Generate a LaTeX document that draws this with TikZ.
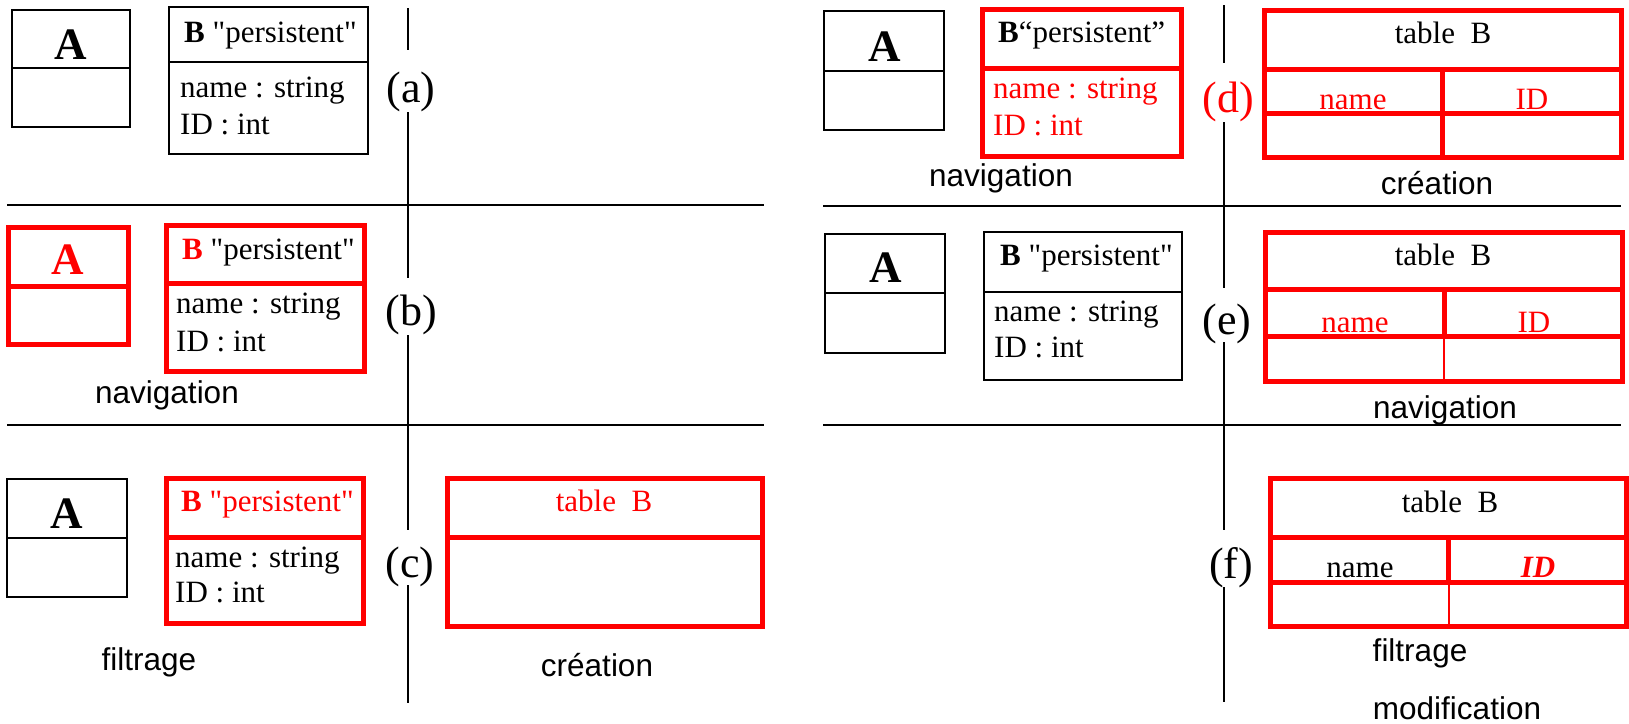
\documentclass[tikz,border=0pt]{standalone}
\usepackage{fontspec}
\setmainfont{Liberation Serif}[Ligatures=TeXOff]
\setsansfont{Liberation Sans}
\begin{document}
\begin{tikzpicture}[x=1pt,y=-1pt,
  sep/.style={draw=black, line width=2.4pt},
  blkbox/.style={draw=black, line width=2.4pt},
  redbox/.style={draw=red, line width=5pt},
  redthin/.style={draw=red, line width=2pt},
  body/.style={font=\fontsize{31}{36}\selectfont, inner sep=0pt, anchor=base west},
  cell/.style={font=\fontsize{31}{36}\selectfont, inner sep=0pt, anchor=base},
  bigA/.style={font=\bfseries\fontsize{45}{50}\selectfont, inner sep=0pt, anchor=base},
  tag/.style={font=\fontsize{44}{50}\selectfont, inner sep=0pt, anchor=base},
  note/.style={font=\sffamily\fontsize{31.5}{36}\selectfont, inner sep=0pt, anchor=base},
]
\useasboundingbox (0,0) rectangle (1629,723);

% ---------- separators ----------
\draw[sep] (7,205) -- (764,205);
\draw[sep] (7,425) -- (764,425);
\draw[sep] (823,206) -- (1621,206);
\draw[sep] (823,425) -- (1621,425);
\draw[sep] (408,8) -- (408,50);
\draw[sep] (408,112) -- (408,278);
\draw[sep] (408,335) -- (408,530);
\draw[sep] (408,585) -- (408,703);
\draw[sep] (1224,5) -- (1224,63);
\draw[sep] (1224,122) -- (1224,288);
\draw[sep] (1224,342) -- (1224,530);
\draw[sep] (1224,587) -- (1224,702);

% ---------- step labels ----------
\node[tag] (la) at (411,102) {(a)};
\node[tag] (lb) at (411,325) {(b)};
\node[tag] (lc) at (410,577) {(c)};
\node[tag, text=red] (ld) at (1228,112) {(d)};
\node[tag] (le) at (1227,334) {(e)};
\node[tag] (lf) at (1231,578) {(f)};

% ---------- (a) ----------
\draw[blkbox] (12,10) rectangle (130,127);
\draw[blkbox] (12,68) -- (130,68);
\node[bigA] (aA) at (71,59) {A};
\draw[blkbox] (169,7) rectangle (368,154);
\draw[blkbox] (169,62) -- (368,62);
\node[body] (aBh) at (184,42) {\textbf{B} "persistent"};
\node[body] (aB1) at (180,97) {name : string};
\node[body] (aB2) at (180,134) {ID : int};

% ---------- (b) ----------
\draw[redbox] (8,227) rectangle (128,344);
\draw[redbox] (8,286) -- (128,286);
\node[bigA, text=red] (bA) at (68,274) {A};
\draw[redbox] (166,225) rectangle (364,371);
\draw[redbox] (166,283) -- (364,283);
\node[body] (bBh) at (182,259) {\textcolor{red}{\textbf{B}} "persistent"};
\node[body] (bB1) at (176,313) {name : string};
\node[body] (bB2) at (176,351) {ID : int};
\node[note] (bnav) at (167,403) {navigation};

% ---------- (c) ----------
\draw[blkbox] (7,479) rectangle (127,597);
\draw[blkbox] (7,538) -- (127,538);
\node[bigA] (cA) at (67,528) {A};
\draw[redbox] (166,478) rectangle (363,623);
\draw[redbox] (166,537) -- (363,537);
\node[body, text=red] (cBh) at (181,511) {\textbf{B} "persistent"};
\node[body] (cB1) at (175,567) {name : string};
\node[body] (cB2) at (175,602) {ID : int};
\draw[redbox] (447,478) rectangle (762,626);
\draw[redbox] (447,537) -- (762,537);
\node[cell, text=red] (cT) at (604,511) {table\ \ B};
\node[note] (cfil) at (149,670) {filtrage};
\node[note] (ccre) at (597,676) {création};

% ---------- (d) ----------
\draw[blkbox] (824,11) rectangle (944,130);
\draw[blkbox] (824,71) -- (944,71);
\node[bigA] (dA) at (885,61) {A};
\draw[redbox] (982,9) rectangle (1181,156);
\draw[redbox] (982,68) -- (1181,68);
\node[body] (dBh) at (998,42) {\textbf{B}“persistent”};
\node[body, text=red] (dB1) at (993,98) {name : string};
\node[body, text=red] (dB2) at (993,135) {ID : int};
\draw[redbox] (1264,10) rectangle (1621,157);
\draw[redbox] (1264,69) -- (1621,69);
\draw[redbox] (1264,113) -- (1621,113);
\draw[redbox] (1442,69) -- (1442,157);
\node[cell] (dT) at (1443,43) {table\ \ B};
\node[cell, text=red] (dTn) at (1353,109) {name};
\node[cell, text=red] (dTi) at (1532,109) {ID};
\node[note] (dnav) at (1001,186) {navigation};
\node[note] (dcre) at (1437,194) {création};

% ---------- (e) ----------
\draw[blkbox] (825,234) rectangle (945,353);
\draw[blkbox] (825,293) -- (945,293);
\node[bigA] (eA) at (886,282) {A};
\draw[blkbox] (984,232) rectangle (1182,380);
\draw[blkbox] (984,292) -- (1182,292);
\node[body] (eBh) at (1000,265) {\textbf{B} "persistent"};
\node[body] (eB1) at (994,321) {name : string};
\node[body] (eB2) at (994,357) {ID : int};
\draw[redbox] (1265,232) rectangle (1622,381);
\draw[redbox] (1265,289) -- (1622,289);
\draw[redbox] (1265,336) -- (1622,336);
\draw[redbox] (1444,289) -- (1444,336);
\draw[redthin] (1444,336) -- (1444,381);
\node[cell] (eT) at (1443,265) {table\ \ B};
\node[cell, text=red] (eTn) at (1355,332) {name};
\node[cell, text=red] (eTi) at (1534,332) {ID};
\node[note] (enav) at (1445,418) {navigation};

% ---------- (f) ----------
\draw[redbox] (1270,478) rectangle (1626,626);
\draw[redbox] (1270,537) -- (1626,537);
\draw[redbox] (1270,582) -- (1626,582);
\draw[redbox] (1448,537) -- (1448,582);
\draw[redthin] (1449,582) -- (1449,626);
\node[cell] (fT) at (1450,512) {table\ \ B};
\node[cell] (fTn) at (1360,577) {name};
\node[cell, text=red] (fTi) at (1538,577) {\textbf{\textit{ID}}};
\node[note] (ffil) at (1420,661) {filtrage};
\node[note] (fmod) at (1457,719) {modification};
\end{tikzpicture}
\end{document}
